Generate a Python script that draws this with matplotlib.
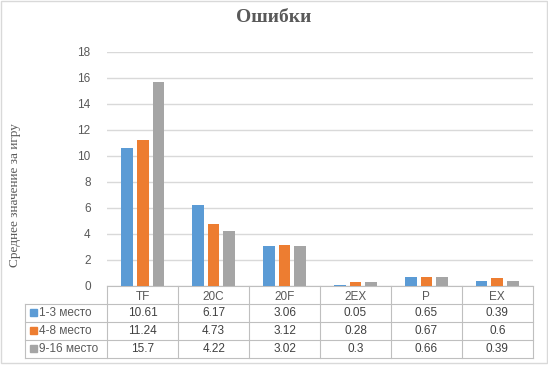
import matplotlib.pyplot as plt
import matplotlib.patches as mpatches
from matplotlib.lines import Line2D
import numpy as np

# data
categories = ['TF', '20C', '20F', '2EX', 'P', 'EX']
series_names = ['1-3 место', '4-8 место', '9-16 место']
top3 = [10.61, 6.17, 3.06, 0.05, 0.65, 0.39]
mid8 = [11.24, 4.73, 3.12, 0.28, 0.67, 0.6]
low16 = [15.7, 4.22, 3.02, 0.3, 0.66, 0.39]
colors = ['#5B9BD5', '#ED7D31', '#A5A5A5']
table_text = [['10.61', '6.17', '3.06', '0.05', '0.65', '0.39'],
              ['11.24', '4.73', '3.12', '0.28', '0.67', '0.6'],
              ['15.7', '4.22', '3.02', '0.3', '0.66', '0.39']]

W, H = 548, 367
fig = plt.figure(figsize=(W / 100, H / 100), dpi=100)

def fx(px):
    return px / W

def fy(py):
    return 1 - py / H

ax_l, ax_r, ax_t, ax_b = 107.3, 532.7, 51.7, 285.7
ax = fig.add_axes([fx(ax_l), fy(ax_b), fx(ax_r) - fx(ax_l), fy(ax_t) - fy(ax_b)])

txt_col = '#595959'
grid_col = '#D9D9D9'
line_col = '#BFBFBF'
font = 'Liberation Sans'

# bars
index = np.arange(len(categories))
bar_width = 0.165
pitch = 0.221
for k, vals in enumerate([top3, mid8, low16]):
    ax.bar(index + (k - 1) * pitch, vals, bar_width, color=colors[k], zorder=3)

ax.set_xlim(-0.5, len(categories) - 0.5)
ax.set_ylim(0, 18)
ax.set_yticks(range(0, 19, 2))
ax.yaxis.grid(True, color=grid_col, linewidth=1, zorder=0)
for s in ['top', 'right', 'left']:
    ax.spines[s].set_visible(False)
ax.spines['bottom'].set_color(line_col)
ax.tick_params(axis='y', length=0, pad=12, labelsize=8.5, labelcolor=txt_col)
ax.set_xticks(index)
ax.set_xticklabels(categories, fontsize=8.5, color=txt_col, family=font)
for lb in ax.get_yticklabels():
    lb.set_family(font)
ax.tick_params(axis='x', length=0, pad=3.5)

# data table below the axes
row_h = 18
header_bot = ax_b + row_h
rows_y = [header_bot + i * row_h for i in range(4)]
lbl_left = 25
for y in rows_y:
    fig.add_artist(Line2D([fx(lbl_left), fx(ax_r)], [fy(y), fy(y)], color=line_col, lw=0.8))
col_w = (ax_r - ax_l) / len(categories)
for i in range(len(categories) + 1):
    x = ax_l + i * col_w
    fig.add_artist(Line2D([fx(x), fx(x)], [fy(ax_b), fy(rows_y[-1])], color=line_col, lw=0.8))
fig.add_artist(Line2D([fx(lbl_left), fx(lbl_left)], [fy(header_bot), fy(rows_y[-1])], color=line_col, lw=0.8))

for r in range(3):
    yc = fy(rows_y[r] + row_h / 2)
    fig.add_artist(mpatches.Rectangle((fx(30), yc - 3.3 / H), 6.7 / W, 6.7 / H, color=colors[r]))
    fig.text(fx(39), yc, series_names[r], fontsize=8.5, color=txt_col, va='center', ha='left',
             family=font)
    for c in range(len(categories)):
        fig.text(fx(ax_l + (c + 0.5) * col_w), yc, table_text[r][c], fontsize=8.5,
                 color='#404040', va='center', ha='center', family=font)

# title and axis label
fig.text(fx(274), fy(18), 'Ошибки', fontsize=14, fontweight='bold', color=txt_col,
         family='Liberation Serif', ha='center', va='center')
fig.text(fx(15), fy(195), 'Среднее значение за игру', fontsize=9.5, color=txt_col,
         family='Liberation Serif', rotation=90, ha='center', va='center')

# outer border
fig.add_artist(mpatches.Rectangle((fx(1), fy(363)), fx(546), 362 / H, fill=False,
                                  edgecolor=grid_col, lw=1))

fig.savefig('out.png', dpi=100)
